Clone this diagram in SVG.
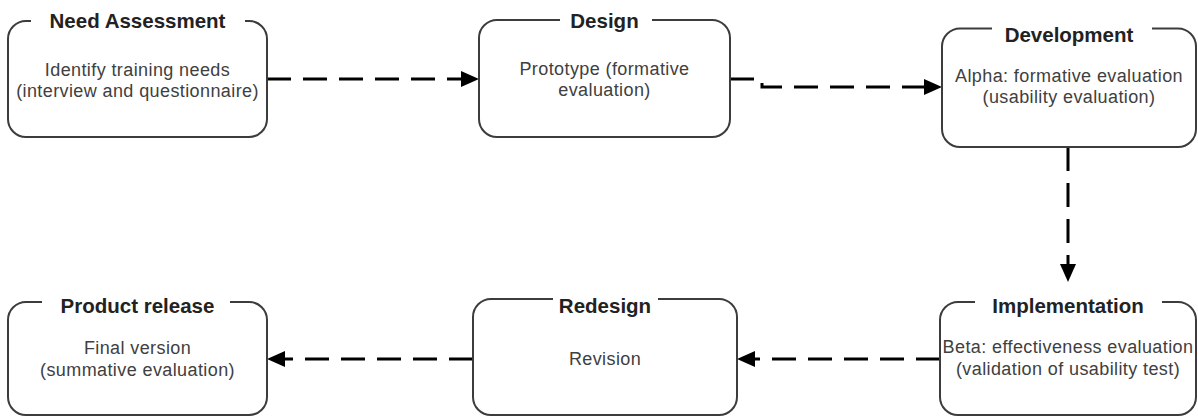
<svg xmlns="http://www.w3.org/2000/svg" width="1198" height="416" viewBox="0 0 1198 416">
<style>
.box{fill:none;stroke:#3c3c3c;stroke-width:2}
.title{font-family:"Liberation Sans",Arial,sans-serif;font-weight:bold;font-size:20.5px;fill:#222;text-anchor:middle}
.body{font-family:"Liberation Sans",Arial,sans-serif;font-size:18px;letter-spacing:0.4px;fill:#404040;text-anchor:middle}
.conn{fill:none;stroke:#000;stroke-width:3;stroke-dasharray:24 12}
</style>
<defs>
<marker id="arr" markerUnits="userSpaceOnUse" markerWidth="18" markerHeight="16" refX="0" refY="8" orient="auto" overflow="visible">
<path d="M0,0 L18,8 L0,16 Z" fill="#000"/>
</marker>
</defs>
<rect width="1198" height="416" fill="#fff"/>
<g id="connectors">
<path class="conn" d="M267,79 H461" marker-end="url(#arr)"/>
<path class="conn" d="M730,79 H762 V87 H924" marker-end="url(#arr)"/>
<path class="conn" d="M1068,147 V264" marker-end="url(#arr)"/>
<path class="conn" d="M940,359 H755" marker-end="url(#arr)"/>
<path class="conn" d="M473,359 H285" marker-end="url(#arr)"/>
</g>
<g id="need-assessment">
<path class="box" d="M245,21 H249 A18,18 0 0 1 267,39 V119 A18,18 0 0 1 249,137 H26 A18,18 0 0 1 8,119 V39 A18,18 0 0 1 26,21 H31"/>
<text class="title" x="137.5" y="27.5">Need Assessment</text>
<text class="body" x="137.5" y="76">Identify training needs</text>
<text class="body" x="137.5" y="97">(interview and questionnaire)</text>
</g>
<g id="design">
<path class="box" d="M652,20 H712 A18,18 0 0 1 730,38 V119 A18,18 0 0 1 712,137 H497 A18,18 0 0 1 479,119 V38 A18,18 0 0 1 497,20 H560"/>
<text class="title" x="604.5" y="27.5">Design</text>
<text class="body" x="604.5" y="75">Prototype (formative</text>
<text class="body" x="604.5" y="96">evaluation)</text>
</g>
<g id="development">
<path class="box" d="M1152,28.5 H1178 A18,18 0 0 1 1196,46.5 V129 A18,18 0 0 1 1178,147 H960 A18,18 0 0 1 942,129 V46.5 A18,18 0 0 1 960,28.5 H992"/>
<text class="title" x="1069" y="41.5">Development</text>
<text class="body" x="1069" y="82">Alpha: formative evaluation</text>
<text class="body" x="1069" y="103">(usability evaluation)</text>
</g>
<g id="implementation">
<path class="box" d="M1162,302 H1178 A18,18 0 0 1 1196,320 V397 A18,18 0 0 1 1178,415 H958 A18,18 0 0 1 940,397 V320 A18,18 0 0 1 958,302 H975"/>
<text class="title" x="1068" y="312.5">Implementation</text>
<text class="body" x="1068" y="353">Beta: effectiveness evaluation</text>
<text class="body" x="1068" y="375">(validation of usability test)</text>
</g>
<g id="redesign">
<path class="box" d="M658,299 H719 A18,18 0 0 1 737,317 V397 A18,18 0 0 1 719,415 H491 A18,18 0 0 1 473,397 V317 A18,18 0 0 1 491,299 H553"/>
<text class="title" x="605" y="312.5">Redesign</text>
<text class="body" x="605" y="365">Revision</text>
</g>
<g id="product-release">
<path class="box" d="M230,302 H249 A18,18 0 0 1 267,320 V397 A18,18 0 0 1 249,415 H26 A18,18 0 0 1 8,397 V320 A18,18 0 0 1 26,302 H42"/>
<text class="title" x="137.5" y="312.5">Product release</text>
<text class="body" x="137.5" y="354">Final version</text>
<text class="body" x="137.5" y="376">(summative evaluation)</text>
</g>
</svg>
